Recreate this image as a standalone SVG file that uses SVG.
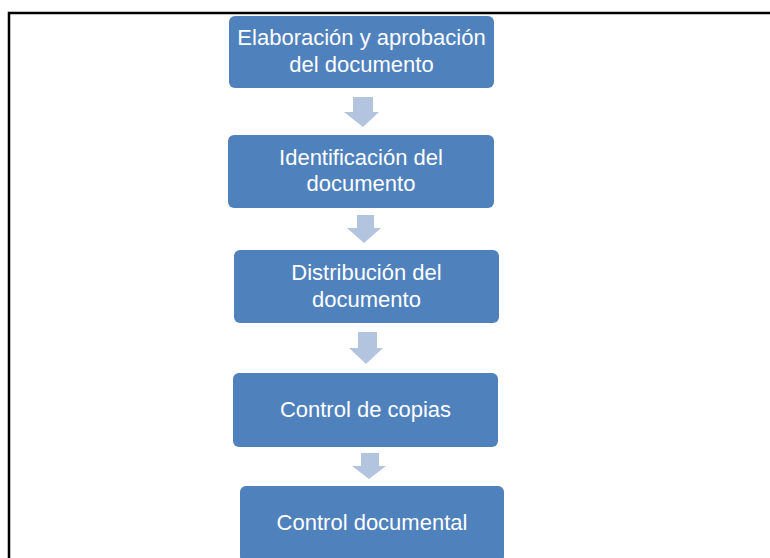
<svg xmlns="http://www.w3.org/2000/svg" width="770" height="558" viewBox="0 0 770 558">
<style>
.box{fill:#4F81BD;}
.arr{fill:#B3C4DF;}
.t{font-family:"Liberation Sans",Arial,sans-serif;font-size:22px;fill:#FFFFFF;text-anchor:middle;}
.frame{stroke:#000;stroke-width:2.5;fill:none;}
</style>
<rect width="770" height="558" fill="#FFFFFF"/>
<path class="frame" d="M9,558 V13 H770"/>
<g id="connectors">
<polygon class="arr" points="353,97 373,97 373,112 379,112 363,127 344,112 353,112"/>
<polygon class="arr" points="357,215 374,215 374,228 381,228 364,243 347,228 357,228"/>
<polygon class="arr" points="358,332 377,332 377,348 383,348 366,364 349,348 358,348"/>
<polygon class="arr" points="361,453 379,453 379,466 386,466 369,479 352,466 361,466"/>
</g>
<g id="n1">
<rect class="box" x="229" y="16" width="265" height="72" rx="6"/>
<text class="t" x="361.5" y="45">Elaboración y aprobación</text>
<text class="t" x="361.5" y="72">del documento</text>
</g>
<g id="n2">
<rect class="box" x="228" y="135" width="266" height="73" rx="6"/>
<text class="t" x="361" y="165">Identificación del</text>
<text class="t" x="361" y="191">documento</text>
</g>
<g id="n3">
<rect class="box" x="234" y="250" width="265" height="73" rx="6"/>
<text class="t" x="366.5" y="280">Distribución del</text>
<text class="t" x="366.5" y="306.5">documento</text>
</g>
<g id="n4">
<rect class="box" x="233" y="373" width="265" height="74" rx="6"/>
<text class="t" x="365.5" y="416.5">Control de copias</text>
</g>
<g id="n5">
<rect class="box" x="240" y="486" width="264" height="76" rx="6"/>
<text class="t" x="372" y="530">Control documental</text>
</g>
</svg>
